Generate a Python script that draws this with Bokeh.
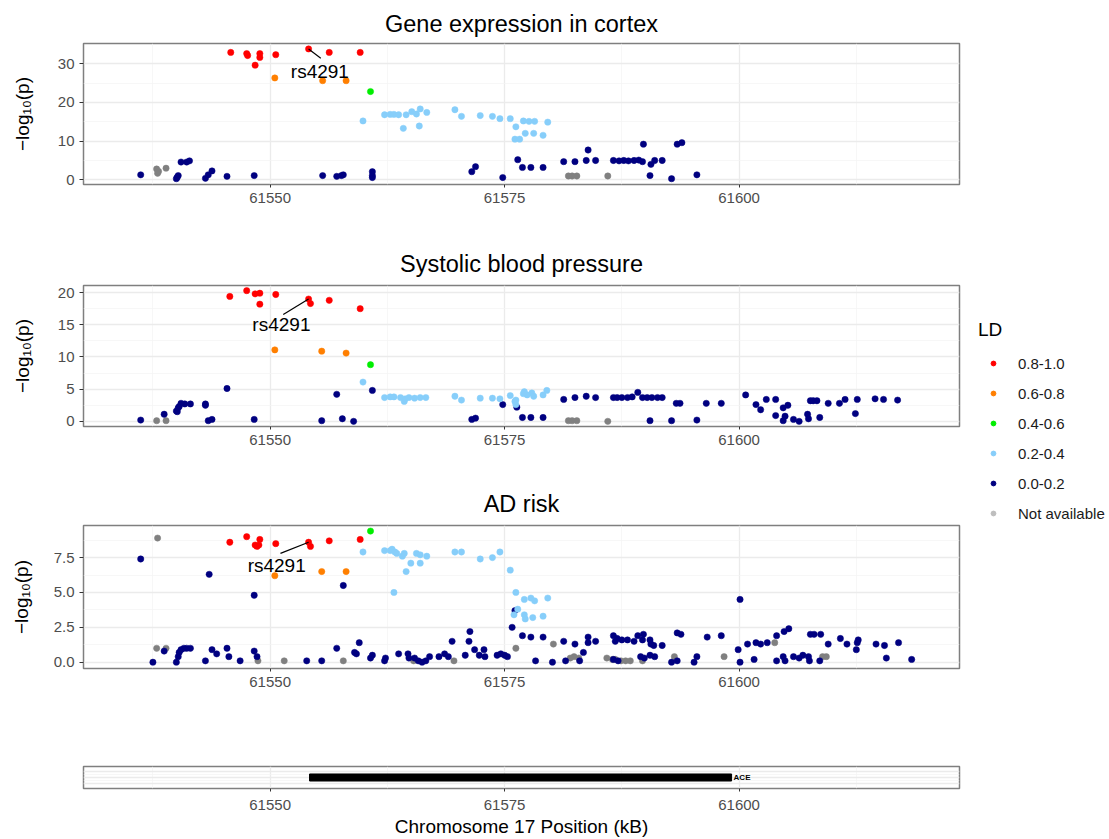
from bokeh.plotting import figure
from bokeh.layouts import column, row
from bokeh.models import FixedTicker, Legend, LegendItem, Range1d, PrintfTickFormatter
from bokeh.core.properties import value
from bokeh.embed import file_html
from bokeh.resources import INLINE

FONT = "Liberation Sans"

# ---------------- data ----------------
LD_LABELS = ["0.8-1.0", "0.6-0.8", "0.4-0.6", "0.2-0.4", "0.0-0.2", "Not available"]
LD_COLORS = ["#FF0000", "#FF7F00", "#00EE00", "#87CEFA", "#000080", "#808080"]
LEGEND_NA_COLOR = "#BEBEBE"

PANEL_TITLES = ["Gene expression in cortex", "Systolic blood pressure", "AD risk"]
LEAD_SNP = "rs4291"
LEAD_SNP_POS = 61554.1

# (position kB, -log10 p) per LD class, Gene expression in cortex
cortex_ld08 = [(61545.8, 32.9), (61547.5, 32.6), (61547.6, 32.1), (61548.4, 29.6), (61548.9, 32.6),
               (61548.9, 31.6), (61550.6, 32.3), (61554.1, 33.8), (61556.3, 32.9), (61559.6, 32.9)]
cortex_ld06 = [(61550.5, 26.3), (61555.6, 25.6), (61558.1, 25.6)]
cortex_ld04 = [(61560.7, 22.8)]
cortex_ld02 = [(61559.9, 15.2), (61562.2, 16.8), (61562.8, 16.9), (61563.2, 16.9), (61563.7, 16.8),
               (61564.2, 13.3), (61564.5, 16.8), (61565.1, 17.6), (61565.6, 17.0), (61565.9, 13.9),
               (61566.0, 18.3), (61566.7, 17.4), (61569.7, 18.1), (61570.4, 16.4), (61572.4, 16.6),
               (61573.7, 16.4), (61574.5, 15.8), (61575.6, 15.8), (61576.2, 13.7), (61576.1, 10.5),
               (61576.6, 10.5), (61577.0, 15.2), (61577.6, 15.1), (61578.2, 15.1), (61577.2, 12.0),
               (61578.1, 12.0), (61579.1, 11.5), (61579.6, 14.9)]
cortex_ld00 = [(61536.2, 1.3), (61540.0, 0.3), (61540.1, 0.7), (61540.2, 1.1), (61540.5, 4.6),
               (61541.1, 4.6), (61541.4, 4.9), (61543.1, 0.4), (61543.4, 1.3), (61543.8, 2.3),
               (61545.4, 0.9), (61548.3, 1.1), (61555.6, 1.1), (61557.1, 0.9), (61557.6, 1.1),
               (61557.8, 1.3), (61560.9, 2.1), (61560.9, 1.1), (61560.9, 0.6), (61571.5, 2.1),
               (61571.9, 3.4), (61574.8, 0.6), (61576.4, 5.2), (61576.9, 3.2), (61577.8, 3.2),
               (61579.1, 3.2), (61581.3, 4.7), (61582.5, 4.7), (61583.9, 7.7), (61583.7, 5.0),
               (61584.7, 5.0), (61586.6, 5.0), (61587.2, 4.9), (61587.7, 5.0), (61588.2, 4.9),
               (61588.8, 5.0), (61589.3, 5.1), (61589.7, 4.7), (61589.8, 9.2), (61590.6, 4.0),
               (61590.5, 1.1), (61591.0, 5.0), (61591.8, 5.0), (61592.8, 0.3), (61593.4, 9.2),
               (61593.9, 9.6), (61595.5, 1.3)]
cortex_na = [(61537.9, 2.8), (61538.0, 1.7), (61538.1, 2.2), (61538.9, 3.0), (61581.8, 1.0),
             (61582.2, 1.0), (61582.7, 1.0), (61586.0, 1.0)]

# Systolic blood pressure
sbp_ld08 = [(61545.7, 19.4), (61547.5, 20.3), (61548.4, 19.8), (61548.9, 19.9), (61548.9, 18.2),
            (61550.6, 19.7), (61554.1, 19.0), (61554.3, 18.3), (61556.3, 18.8), (61559.6, 17.5)]
sbp_ld06 = [(61550.5, 11.1), (61555.5, 10.9), (61558.1, 10.6)]
sbp_ld04 = [(61560.7, 8.8)]
sbp_ld02 = [(61559.9, 6.1), (61562.2, 3.7), (61562.8, 3.8), (61563.2, 3.8), (61563.9, 3.7),
            (61564.3, 3.1), (61564.4, 3.5), (61564.8, 3.7), (61565.4, 3.6), (61566.0, 3.7),
            (61566.6, 3.7), (61569.7, 3.9), (61570.4, 3.3), (61572.4, 3.6), (61573.7, 3.6),
            (61574.5, 3.5), (61575.6, 4.0), (61576.1, 3.1), (61576.2, 2.6), (61576.2, 3.3),
            (61577.1, 4.6), (61577.4, 4.1), (61577.9, 4.4), (61578.1, 3.9), (61577.0, 4.3),
            (61579.1, 4.1), (61579.5, 4.8)]
sbp_ld00 = [(61536.2, 0.2), (61538.7, 1.1), (61540.0, 1.6), (61540.1, 1.5), (61540.2, 2.1),
            (61540.3, 2.3), (61540.5, 2.8), (61540.9, 2.7), (61541.5, 2.7), (61543.1, 2.5),
            (61543.1, 2.7), (61543.4, 0.1), (61543.8, 0.3), (61545.4, 5.1), (61548.3, 0.3),
            (61555.5, 0.1), (61557.1, 4.2), (61557.7, 0.4), (61558.9, 0.0), (61560.9, 4.8),
            (61571.5, 0.3), (61571.9, 0.5), (61574.8, 2.6), (61576.3, 2.2), (61576.9, 0.6),
            (61577.8, 0.6), (61579.1, 0.6), (61581.3, 3.4), (61582.5, 3.7), (61583.7, 3.9),
            (61584.7, 3.7), (61586.6, 3.7), (61587.0, 3.7), (61587.5, 3.7), (61588.1, 3.7),
            (61588.6, 3.8), (61589.2, 4.5), (61589.7, 3.7), (61590.2, 3.7), (61590.7, 3.7),
            (61591.3, 3.7), (61591.8, 3.7), (61590.5, 0.1), (61592.8, 0.1), (61593.3, 2.8),
            (61593.7, 2.8), (61595.5, 0.2), (61596.5, 2.8), (61598.1, 2.8), (61600.7, 4.1),
            (61601.8, 2.6), (61602.3, 1.8), (61602.9, 3.4), (61603.9, 3.4), (61603.9, 0.9),
            (61604.7, 2.1), (61605.2, 2.5), (61604.7, 0.1), (61604.9, 0.8), (61605.8, 0.3),
            (61606.4, 0.0), (61607.3, 1.1), (61607.4, 0.4), (61608.6, 0.6), (61607.6, 3.2),
            (61607.9, 3.2), (61608.3, 3.2), (61609.5, 2.8), (61610.7, 2.8), (61611.3, 3.4),
            (61612.4, 1.2), (61612.6, 3.4), (61614.5, 3.5), (61615.4, 3.4), (61616.9, 3.3)]
sbp_na = [(61537.9, 0.1), (61538.9, 0.1), (61581.8, 0.1), (61582.2, 0.1), (61582.7, 0.1),
          (61586.0, 0.0)]

# AD risk
ad_ld08 = [(61545.7, 8.6), (61547.5, 9.0), (61548.4, 8.4), (61548.6, 8.3), (61548.9, 8.8),
           (61548.8, 8.4), (61550.6, 8.5), (61554.1, 8.6), (61554.3, 8.3), (61556.3, 8.7),
           (61559.6, 8.8)]
ad_ld06 = [(61550.5, 6.2), (61555.5, 6.5), (61558.1, 6.5)]
ad_ld04 = [(61560.7, 9.4)]
ad_ld02 = [(61559.9, 7.9), (61562.2, 8.0), (61562.8, 8.0), (61563.0, 8.1), (61563.3, 7.9),
           (61563.5, 7.8), (61564.1, 7.6), (61564.3, 7.8), (61563.2, 5.0), (61564.5, 6.5),
           (61565.0, 7.1), (61565.6, 7.8), (61566.0, 7.7), (61566.0, 7.1), (61566.7, 7.6),
           (61569.7, 7.9), (61570.4, 7.9), (61572.4, 7.4), (61573.7, 7.5), (61574.5, 7.9),
           (61575.6, 6.6), (61576.2, 5.0), (61577.1, 4.5), (61577.8, 4.6), (61578.2, 4.4),
           (61579.6, 4.6), (61576.0, 3.4), (61576.4, 3.8), (61577.1, 3.4), (61577.2, 3.1),
           (61578.0, 3.2), (61579.1, 3.3)]
ad_ld00 = [(61536.2, 7.4), (61537.5, 0.0), (61538.7, 0.8), (61540.0, 0.0), (61540.2, 0.4),
           (61540.3, 0.7), (61540.5, 0.9), (61540.8, 1.0), (61541.1, 1.0), (61541.5, 1.0),
           (61543.5, 6.3), (61543.1, 0.1), (61543.8, 0.9), (61544.3, 0.6), (61545.4, 1.0),
           (61545.6, 0.4), (61546.8, 0.1), (61548.3, 4.8), (61548.3, 0.8), (61548.6, 0.4),
           (61553.9, 0.1), (61555.5, 0.1), (61557.1, 1.0), (61557.8, 5.5), (61559.0, 0.7),
           (61559.2, 0.6), (61559.5, 1.4), (61560.7, 0.3), (61560.9, 0.5), (61562.2, 0.1),
           (61562.3, 0.3), (61563.7, 0.6), (61564.7, 0.6), (61564.8, 0.3), (61565.4, 0.3),
           (61565.8, 0.1), (61566.2, 0.0), (61566.6, 0.1), (61567.0, 0.4), (61568.0, 0.4),
           (61568.6, 0.6), (61569.0, 0.4), (61569.4, 1.5), (61570.8, 0.5), (61571.2, 1.5),
           (61571.3, 2.2), (61571.8, 0.9), (61572.3, 0.5), (61572.8, 0.9), (61572.9, 0.4),
           (61574.2, 0.5), (61574.6, 0.6), (61575.0, 0.5), (61575.3, 0.4), (61575.8, 2.5),
           (61576.1, 3.7), (61576.9, 1.9), (61577.8, 1.8), (61579.1, 1.8), (61578.3, 0.1),
           (61580.1, 0.0), (61581.3, 1.5), (61581.5, 0.1), (61582.5, 1.3), (61583.0, 0.1),
           (61583.4, 0.7), (61583.9, 1.8), (61583.9, 1.4), (61584.7, 1.5), (61586.6, 1.9),
           (61586.8, 1.5), (61587.0, 1.7), (61587.5, 1.6), (61588.1, 1.6), (61588.8, 1.5),
           (61589.2, 1.9), (61589.8, 2.0), (61589.7, 1.6), (61590.5, 1.6), (61590.6, 1.3),
           (61590.9, 1.2), (61591.8, 1.2), (61589.5, 0.4), (61589.9, 0.3), (61590.5, 0.5),
           (61591.0, 0.4), (61586.6, 0.2), (61587.1, 0.1), (61592.8, 0.0), (61593.4, 0.1),
           (61593.4, 2.1), (61593.8, 2.0), (61595.2, 0.0), (61595.5, 0.4), (61596.6, 1.8),
           (61598.1, 1.9), (61599.9, 0.9), (61600.1, 0.0), (61600.1, 4.5), (61600.9, 1.3),
           (61601.6, 0.2), (61601.8, 1.4), (61602.3, 1.3), (61603.0, 1.4), (61604.0, 1.9),
           (61604.0, 0.1), (61604.7, 0.4), (61604.9, 0.1), (61604.8, 2.2), (61605.3, 2.4),
           (61605.8, 0.4), (61606.4, 0.3), (61606.8, 0.5), (61607.4, 0.4), (61607.5, 0.1),
           (61607.6, 2.0), (61608.0, 2.0), (61608.7, 2.0), (61608.6, 0.1), (61609.5, 1.3),
           (61610.8, 1.7), (61611.5, 1.3), (61612.5, 0.9), (61612.6, 1.4), (61612.7, 1.6),
           (61614.6, 1.3), (61615.5, 1.2), (61615.7, 0.3), (61617.0, 1.4), (61618.4, 0.2)]
ad_na = [(61538.0, 8.9), (61537.9, 1.0), (61538.9, 1.0), (61548.7, 0.1), (61551.5, 0.1),
         (61557.8, 0.1), (61565.3, 0.1), (61569.6, 0.1), (61576.2, 1.0), (61580.2, 1.3),
         (61582.0, 0.3), (61582.4, 0.4), (61582.9, 0.3), (61585.9, 0.3), (61586.5, 0.2),
         (61586.8, 0.2), (61587.4, 0.1), (61587.9, 0.1), (61588.4, 0.1), (61589.7, 0.1),
         (61593.1, 0.4), (61598.4, 0.4), (61603.8, 1.4), (61608.9, 0.4), (61609.3, 0.4)]

# y axis breaks per panel
y_major = [[0, 10, 20, 30], [0, 5, 10, 15, 20], [0, 2.5, 5.0, 7.5]]
y_minor = [[5, 15, 25], [2.5, 7.5, 12.5, 17.5], [1.25, 3.75, 6.25, 8.75]]
y_limits = [(-1.2, 35.2), (-0.8, 21.1), (-0.45, 9.8)]

x_major = [61550, 61575, 61600]
x_minor = [61537.5, 61562.5, 61587.5, 61612.5]
x_limits = (61530.1, 61623.5)

# rs4291 label placement (data units) per panel
label_x = [61555.3, 61551.2, 61550.7]
label_y = [28.0, 15.0, 6.9]
seg_end_x = [61555.4, 61551.4, 61551.1]
seg_end_y = [31.4, 16.6, 7.8]

# Gene track
gene_names = ["ACE"]
gene_start = [61554.2]
gene_end = [61599.2]

# ---------------- layout constants ----------------
FRAME_W = 876
BORDER_L = 83
BORDER_R = 5
GRID_MAJOR = "#EBEBEB"
GRID_MINOR = "#F4F4F4"
BORDER_COL = "#7F7F7F"
TICK_COL = "#4D4D4D"

x_range = Range1d(*x_limits)


def style_x(p, standoff=4):
    ax = p.xaxis[0]
    ax.ticker = FixedTicker(ticks=x_major, minor_ticks=x_minor)
    ax.axis_line_color = None
    ax.major_tick_line_color = "#333333"
    ax.major_tick_out = 3
    ax.major_tick_in = 0
    ax.minor_tick_line_color = None
    ax.major_label_text_font = FONT
    ax.major_label_text_font_size = "15px"
    ax.major_label_text_color = TICK_COL
    ax.major_label_standoff = standoff
    p.xgrid.grid_line_color = GRID_MAJOR
    p.xgrid.grid_line_width = 1.3
    p.xgrid.minor_grid_line_color = GRID_MINOR
    p.xgrid.minor_grid_line_width = 0.7


def make_panel(i, groups, top, fh, bottom, label_standoff, title_standoff):
    p = figure(frame_width=FRAME_W, frame_height=fh,
               min_border_left=BORDER_L, min_border_right=BORDER_R,
               min_border_top=top, min_border_bottom=bottom,
               x_range=x_range, y_range=Range1d(*y_limits[i]),
               output_backend="svg", toolbar_location=None,
               title=PANEL_TITLES[i])
    p.title.text_font = FONT
    p.title.text_font_size = "23.5px"
    p.title.text_font_style = "normal"
    p.title.text_color = "black"
    p.title.align = "center"
    p.title.standoff = title_standoff
    p.outline_line_color = BORDER_COL
    p.outline_line_width = 1.5
    style_x(p)
    ay = p.yaxis[0]
    ay.ticker = FixedTicker(ticks=y_major[i], minor_ticks=y_minor[i])
    if i == 2:
        ay.formatter = PrintfTickFormatter(format="%.1f")
    ay.axis_line_color = None
    ay.major_tick_line_color = "#333333"
    ay.major_tick_out = 4
    ay.major_tick_in = 0
    ay.minor_tick_line_color = None
    ay.major_label_text_font = FONT
    ay.major_label_text_font_size = "15px"
    ay.major_label_text_color = TICK_COL
    ay.major_label_standoff = 5
    ay.axis_label = "\u2212log\u2081\u2080(p)"
    ay.axis_label_text_font = FONT
    ay.axis_label_text_font_size = "19px"
    ay.axis_label_text_font_style = "normal"
    ay.axis_label_text_color = "black"
    ay.axis_label_standoff = label_standoff
    p.ygrid.grid_line_color = GRID_MAJOR
    p.ygrid.grid_line_width = 1.3
    p.ygrid.minor_grid_line_color = GRID_MINOR
    p.ygrid.minor_grid_line_width = 0.7

    # draw order: NA, 0.0-0.2, 0.2-0.4, 0.4-0.6, 0.6-0.8, 0.8-1.0
    for k in [5, 4, 3, 2, 1, 0]:
        pts = groups[k]
        if not pts:
            continue
        p.scatter(x=[q[0] for q in pts], y=[q[1] for q in pts], size=6.3,
                  fill_color=LD_COLORS[k], line_color=LD_COLORS[k], line_width=0.5)

    # lead SNP label with leader line
    lead = [q for q in groups[0] if q[0] == LEAD_SNP_POS][0]
    p.segment(x0=[lead[0]], y0=[lead[1]], x1=[seg_end_x[i]], y1=[seg_end_y[i]],
              line_color="black", line_width=1.2)
    p.text(x=[label_x[i]], y=[label_y[i]], text=[LEAD_SNP], text_align="center",
           text_baseline="middle", text_font=value(FONT), text_font_size="19px",
           text_color="black")
    return p


sbp_groups = [sbp_ld08, sbp_ld06, sbp_ld04, sbp_ld02, sbp_ld00, sbp_na]
p1 = make_panel(0, [cortex_ld08, cortex_ld06, cortex_ld04, cortex_ld02, cortex_ld00, cortex_na],
                43, 141, 54, 22, 14)
p2 = make_panel(1, sbp_groups, 47, 141, 52, 22, 17)
p3 = make_panel(2, [ad_ld08, ad_ld06, ad_ld04, ad_ld02, ad_ld00, ad_na],
                47, 143, 71, 19, 17)

# gene track
p4 = figure(frame_width=FRAME_W, frame_height=22,
            min_border_left=BORDER_L, min_border_right=BORDER_R,
            min_border_top=27, min_border_bottom=50,
            x_range=x_range, y_range=Range1d(0, 1),
            output_backend="svg", toolbar_location=None)
p4.outline_line_color = BORDER_COL
p4.outline_line_width = 1.5
style_x(p4, standoff=7)
p4.yaxis.visible = False
p4.ygrid.ticker = FixedTicker(ticks=[0.22, 0.5, 0.78], minor_ticks=[0.36, 0.64])
p4.ygrid.grid_line_color = GRID_MAJOR
p4.ygrid.grid_line_width = 1.3
p4.ygrid.minor_grid_line_color = GRID_MINOR
p4.ygrid.minor_grid_line_width = 0.7
ax4 = p4.xaxis[0]
ax4.axis_label = "Chromosome 17 Position (kB)"
ax4.axis_label_text_font = FONT
ax4.axis_label_text_font_size = "19px"
ax4.axis_label_text_font_style = "normal"
ax4.axis_label_text_color = "black"
ax4.axis_label_standoff = 3
p4.hbar(y=[0.5] * len(gene_names), left=gene_start, right=gene_end, height=0.32,
        fill_color="black", line_color="black")
p4.text(x=gene_end, y=[0.5] * len(gene_names), text=gene_names, x_offset=2,
        text_baseline="middle", text_align="left", text_font=value(FONT),
        text_font_size="8px", text_font_style="bold", text_color="black")

# legend figure (its glyphs reuse the real data, which lies outside this figure's ranges)
lf = figure(width=145, height=839, min_border=0, x_range=(0, 1), y_range=(0, 1),
            output_backend="svg", toolbar_location=None)
lf.axis.visible = False
lf.grid.visible = False
lf.outline_line_color = None
items = []
for k, lab in enumerate(LD_LABELS):
    col = LD_COLORS[k] if k < 5 else LEGEND_NA_COLOR
    pts = sbp_groups[k]
    r = lf.scatter(x=[q[0] for q in pts], y=[q[1] for q in pts], size=5,
                   fill_color=col, line_color=col)
    items.append(LegendItem(label=lab, renderers=[r]))
leg = Legend(items=items, location=(14, 316), title="LD",
             title_text_font=FONT, title_text_font_size="19px", title_text_font_style="normal",
             title_text_color="black",
             title_standoff=12, label_text_font=FONT, label_text_font_size="15px",
             label_text_color="#1A1A1A", glyph_width=30, glyph_height=12, label_height=20,
             label_standoff=10, spacing=10, padding=0, margin=0,
             border_line_color=None, background_fill_alpha=0)
lf.add_layout(leg)

layout = row(column(p1, p2, p3, p4), lf)
open("out.html", "w").write(file_html(layout, INLINE))
